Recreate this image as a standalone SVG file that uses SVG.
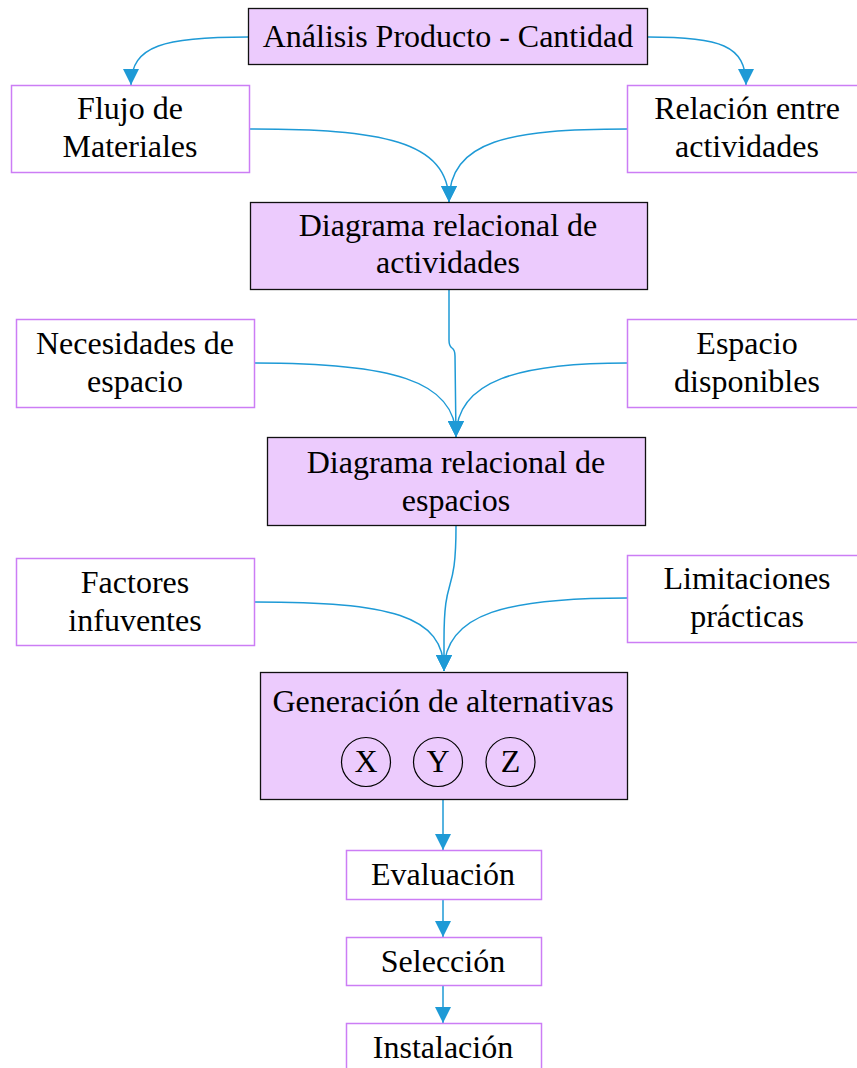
<svg xmlns="http://www.w3.org/2000/svg" width="857" height="1068" viewBox="0 0 857 1068">
<style>
.p{fill:#ECCBFD;stroke:#111;stroke-width:1.3}
.w{fill:#fff;stroke:#CC7DF5;stroke-width:1.5}
.t{font-family:"Liberation Serif","Times New Roman",serif;font-size:32px;fill:#000;text-anchor:middle}
.c{fill:none;stroke:#1E9AD6;stroke-width:1.5}
.o{fill:none;stroke:#000;stroke-width:1.2}
</style>
<defs>
<marker id="ah" viewBox="0 0 16 16" refX="16" refY="8" markerWidth="16" markerHeight="16" markerUnits="userSpaceOnUse" orient="auto">
<path d="M0,0 L16,8 L0,16 z" fill="#1E9AD6"/>
</marker>
</defs>
<rect width="857" height="1068" fill="#fff"/>
<g id="connectors">
<path class="c" marker-end="url(#ah)" d="M248,37 C165,37 131,45 131,85"/>
<path class="c" marker-end="url(#ah)" d="M648,37 C720,37 746,45 746,85"/>
<path class="c" marker-end="url(#ah)" d="M250,129 C380,129 449,140 449,202"/>
<path class="c" marker-end="url(#ah)" d="M627,129 C510,129 449,140 449,202"/>
<path class="c" marker-end="url(#ah)" d="M449,290 L449,340 Q449,346 452,348 Q455,350 455,356 L456,437"/>
<path class="c" marker-end="url(#ah)" d="M255,363 C390,363 456,380 456,437"/>
<path class="c" marker-end="url(#ah)" d="M627,363 C520,363 456,380 456,437"/>
<path class="c" marker-end="url(#ah)" d="M456,526 C456,600 444,570 444,640 L444,671"/>
<path class="c" marker-end="url(#ah)" d="M255,602 C390,602 444,615 444,671"/>
<path class="c" marker-end="url(#ah)" d="M627,598 C510,598 444,612 444,671"/>
<path class="c" marker-end="url(#ah)" d="M443,800 L443,850"/>
<path class="c" marker-end="url(#ah)" d="M443,899 L443,937"/>
<path class="c" marker-end="url(#ah)" d="M443,986 L443,1023"/>
</g>
<g id="n-analisis"><rect class="p" x="248.5" y="8.5" width="399" height="56"/><text class="t" x="448" y="47">Análisis Producto - Cantidad</text></g>
<g id="n-flujo"><rect class="w" x="11.5" y="85.5" width="238" height="87"/><text class="t" x="130" y="119">Flujo de</text><text class="t" x="130" y="157">Materiales</text></g>
<g id="n-relacion"><rect class="w" x="627.5" y="85.5" width="240" height="87"/><text class="t" x="747" y="119">Relación entre</text><text class="t" x="747" y="157">actividades</text></g>
<g id="n-dra"><rect class="p" x="250.5" y="202.5" width="397" height="87"/><text class="t" x="448" y="236">Diagrama relacional de</text><text class="t" x="448" y="273">actividades</text></g>
<g id="n-necesidades"><rect class="w" x="16.5" y="319.5" width="238" height="88"/><text class="t" x="135" y="354">Necesidades de</text><text class="t" x="135" y="392">espacio</text></g>
<g id="n-espacio"><rect class="w" x="627.5" y="319.5" width="240" height="88"/><text class="t" x="747" y="354">Espacio</text><text class="t" x="747" y="392">disponibles</text></g>
<g id="n-dre"><rect class="p" x="267.5" y="437.5" width="378" height="88"/><text class="t" x="456" y="473">Diagrama relacional de</text><text class="t" x="456" y="511">espacios</text></g>
<g id="n-factores"><rect class="w" x="16.5" y="558.5" width="238" height="87"/><text class="t" x="135" y="593">Factores</text><text class="t" x="135" y="631">infuventes</text></g>
<g id="n-limitaciones"><rect class="w" x="627.5" y="555.5" width="240" height="87"/><text class="t" x="747" y="589">Limitaciones</text><text class="t" x="747" y="627">prácticas</text></g>
<g id="n-generacion"><rect class="p" x="260.5" y="672.5" width="367" height="127"/><text class="t" x="443" y="712">Generación de alternativas</text>
<circle class="o" cx="366" cy="762" r="24.5"/><circle class="o" cx="438" cy="762" r="24.5"/><circle class="o" cx="510.5" cy="762" r="24.5"/>
<text class="t" x="366" y="772">X</text><text class="t" x="438" y="772">Y</text><text class="t" x="510.5" y="772">Z</text></g>
<g id="n-evaluacion"><rect class="w" x="346.5" y="850.5" width="195" height="49"/><text class="t" x="443" y="885">Evaluación</text></g>
<g id="n-seleccion"><rect class="w" x="346.5" y="937.5" width="195" height="48"/><text class="t" x="443" y="972">Selección</text></g>
<g id="n-instalacion"><rect class="w" x="346.5" y="1023.5" width="195" height="60"/><text class="t" x="443" y="1058">Instalación</text></g>
</svg>
